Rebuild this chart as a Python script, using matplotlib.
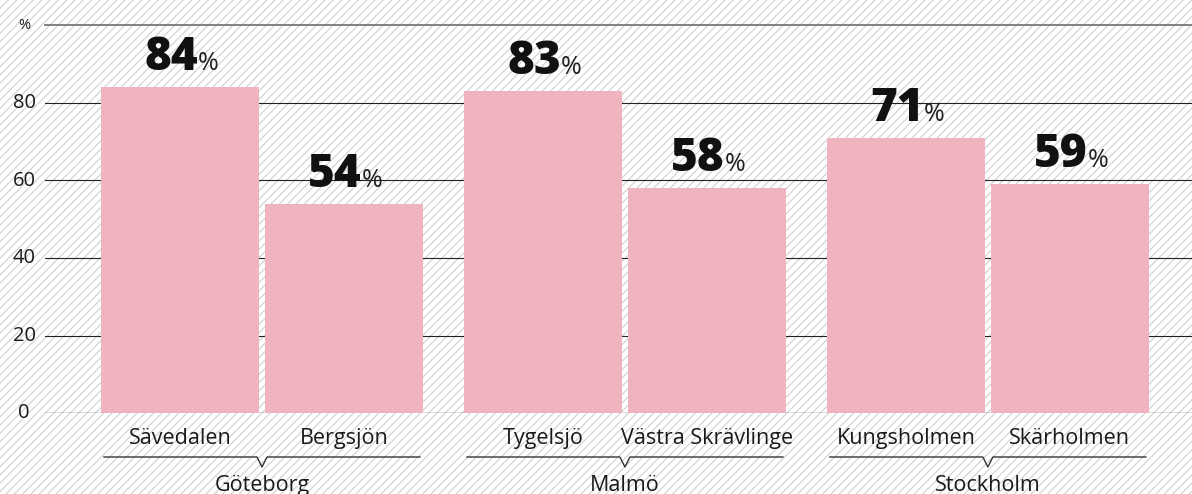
import matplotlib
matplotlib.use("Agg")
import matplotlib.pyplot as plt
from matplotlib.patches import Rectangle
from matplotlib.transforms import blended_transform_factory

plt.rcParams['font.family'] = ['Open Sans', 'DejaVu Sans']
plt.rcParams['hatch.linewidth'] = 0.8

# data
cities = ["Göteborg", "Malmö", "Stockholm"]
areas = [["Sävedalen", "Bergsjön"],
         ["Tygelsjö", "Västra Skrävlinge"],
         ["Kungsholmen", "Skärholmen"]]
values = [[84, 54], [83, 58], [71, 59]]
yticks = [0, 20, 40, 60, 80, 100]
ytick_labels = ["0", "20", "40", "60", "80", "%"]

BAR_COLOR = "#f0b3c0"
TEXT = "#1a1a1a"
W, H = 1192, 494

fig = plt.figure(figsize=(W / 100, H / 100), dpi=100)
fig.patches.append(Rectangle((0, 0), 1, 1, transform=fig.transFigure,
                             facecolor="white", edgecolor="#cfcfcf",
                             hatch="////", lw=0, zorder=-10))

ax = fig.add_axes([45 / W, 81 / H, 1147 / W, 387.5 / H])
ax.set_facecolor("none")
for s in ax.spines.values():
    s.set_visible(False)

px = 1 / 158  # one pixel in x data units
ax.set_xlim(-56 * px - 0.5, -56 * px - 0.5 + 1147 * px)
ax.set_ylim(0, 100)
ax.set_xticks([])
ax.set_yticks([])

# gridlines
for t in yticks:
    if t == 100:
        ax.axhline(t, color="#777777", lw=1.3, zorder=1, clip_on=False)
    elif t == 0:
        ax.axhline(t, color="#555555", lw=1.0, zorder=1)
    else:
        ax.axhline(t, color="#222222", lw=0.8, zorder=1)

fy = lambda ypx: 1 - ypx / H
bt = blended_transform_factory(ax.transData, fig.transFigure)
yt = blended_transform_factory(fig.transFigure, ax.transData)

for t, lab in zip(yticks, ytick_labels):
    ax.text(24 / W, t, lab, transform=yt, ha="center", va="center",
            fontsize=14.5 if lab != "%" else 10.5, color=TEXT)

group_step = 2.297
inner_step = 1.038
for g, city in enumerate(cities):
    xs = [g * group_step + j * inner_step for j in range(2)]
    ax.bar(xs, values[g], width=1.0, color=BAR_COLOR, zorder=2)
    for x, v, name in zip(xs, values[g], areas[g]):
        ax.annotate(str(v), (x, v), xytext=(18, 17), textcoords="offset pixels",
                    ha="right", va="baseline", fontsize=33, fontweight="heavy",
                    color="#111111", zorder=5)
        ax.annotate("%", (x, v), xytext=(18, 17), textcoords="offset pixels",
                    ha="left", va="baseline", fontsize=18, fontweight="normal",
                    color="#222222", zorder=5)
        ax.text(x, fy(438), name, transform=bt, ha="center", va="center",
                fontsize=15.5, color=TEXT)
    # bracket
    left = xs[0] - 0.5 + 3 * px
    right = xs[1] + 0.5 - 3 * px
    mid = (xs[0] + xs[1]) / 2
    bx = [left, mid - 5 * px, mid, mid + 5 * px, right]
    by = [fy(457), fy(457), fy(467), fy(457), fy(457)]
    ax.plot(bx, by, transform=bt, color="#333333", lw=1.0, clip_on=False)
    ax.text(mid, fy(485), city, transform=bt, ha="center", va="center",
            fontsize=15.5, color=TEXT)

fig.savefig("out.png", dpi=100)
